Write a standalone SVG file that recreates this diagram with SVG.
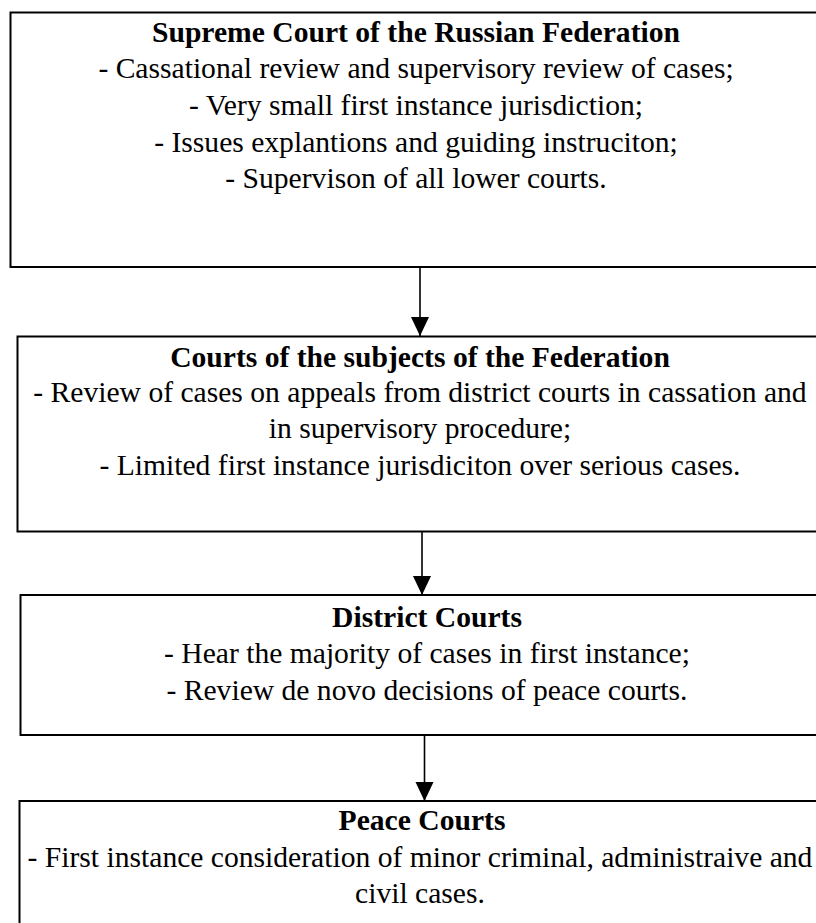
<svg xmlns="http://www.w3.org/2000/svg" width="816" height="923" viewBox="0 0 816 923">
<style>
.box{fill:#fff;stroke:#000;stroke-width:2}
.t{font-family:"Liberation Serif","Times New Roman",serif;font-size:29.6px;fill:#000;text-anchor:middle}
.b{font-weight:bold}
.c{stroke:#000;stroke-width:1.6;fill:none}
</style>
<defs>
<marker id="ah" viewBox="0 0 20 19" refX="20" refY="9.5" markerWidth="19" markerHeight="20" markerUnits="userSpaceOnUse" orient="auto">
<path d="M0,0 L20,9.5 L0,19 Z" fill="#000"/>
</marker>
</defs>
<rect width="816" height="923" fill="#fff"/>
<g id="connectors">
<line class="c" x1="420" y1="267" x2="420" y2="336" marker-end="url(#ah)"/>
<line class="c" x1="422" y1="532" x2="422" y2="595" marker-end="url(#ah)"/>
<line class="c" x1="424.5" y1="735" x2="424.5" y2="801" marker-end="url(#ah)"/>
</g>
<g id="supreme">
<rect class="box" x="10.5" y="12.5" width="812" height="254.5"/>
<text class="t b" x="416" y="42">Supreme Court of the Russian Federation</text>
<text class="t" x="416" y="78">- Cassational review and supervisory review of cases;</text>
<text class="t" x="416" y="115">- Very small first instance jurisdiction;</text>
<text class="t" x="416" y="152">- Issues explantions and guiding instruciton;</text>
<text class="t" x="416" y="188">- Supervison of all lower courts.</text>
</g>
<g id="subjects">
<rect class="box" x="17.5" y="336.5" width="805" height="195"/>
<text class="t b" x="420" y="367">Courts of the subjects of the Federation</text>
<text class="t" x="420" y="402">- Review of cases on appeals from district courts in cassation and</text>
<text class="t" x="420" y="438">in supervisory procedure;</text>
<text class="t" x="420" y="475">- Limited first instance jurisdiciton over serious cases.</text>
</g>
<g id="district">
<rect class="box" x="20.5" y="595" width="805" height="140"/>
<text class="t b" x="427" y="627">District Courts</text>
<text class="t" x="427" y="663">- Hear the majority of cases in first instance;</text>
<text class="t" x="427" y="700">- Review de novo decisions of peace courts.</text>
</g>
<g id="peace">
<rect class="box" x="19.5" y="801" width="805" height="140"/>
<text class="t b" x="422" y="830">Peace Courts</text>
<text class="t" x="420" y="867">- First instance consideration of minor criminal, administraive and</text>
<text class="t" x="420" y="903">civil cases.</text>
</g>
</svg>
